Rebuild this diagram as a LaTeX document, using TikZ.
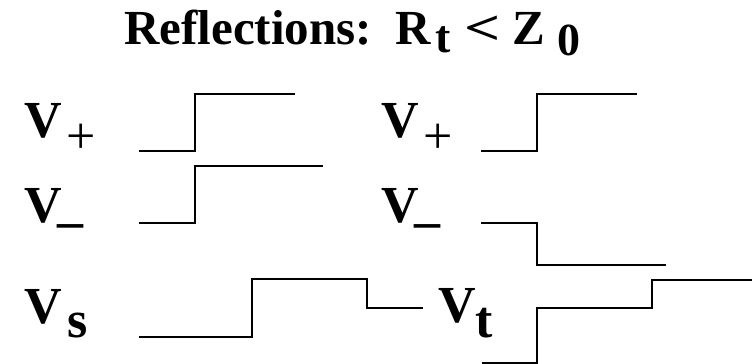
\documentclass[tikz,border=0pt]{standalone}
\usepackage{fontspec}
\setmainfont{Liberation Serif}
\usepackage{tikz}
\usetikzlibrary{calc}

\begin{document}
\begin{tikzpicture}[x=1pt, y=-1pt,
    wave/.style={line width=2.6pt, line join=miter},
    lbl/.style={anchor=base west, inner sep=0pt, font=\fontsize{52pt}{52pt}\selectfont\bfseries}]
          \useasboundingbox (0,0) rectangle (753,364);
          \node[lbl, font=\fontsize{49pt}{49pt}\selectfont\bfseries] (title) at (124,44)
            {Reflections:\hspace{24pt}R\hspace{4pt}\raisebox{-9pt}{\fontsize{46pt}{46pt}\selectfont t}\hspace{14pt}\scalebox{1.3}[1]{\textless}\hspace{12pt}Z\hspace{12pt}\raisebox{-12pt}{\fontsize{46pt}{46pt}\selectfont 0}};
          % labels
          \node[lbl] (vpl) at (24,137) {V\hspace{5pt}\raisebox{-16pt}{\mdseries +}};
          \node[lbl] (vml) at (24,222) {V\hspace{-4pt}\raisebox{-16pt}{–}};
          \node[lbl] (vs) at (24,323) {V\hspace{6pt}\raisebox{-14pt}{s}};
          \node[lbl] (vpr) at (381,137) {V\hspace{5pt}\raisebox{-16pt}{\mdseries +}};
          \node[lbl] (vmr) at (381,222) {V\hspace{-4pt}\raisebox{-16pt}{–}};
          \node[lbl] (vt) at (438,322) {V\hspace{0pt}\raisebox{-15pt}{t}};
          % waveforms
          \draw[wave] (139,151) -| (195,94) -- (295,94);
          \draw[wave] (139,223) -| (195,166) -- (323,166);
          \draw[wave] (481,151) -| (537,94) -- (637,94);
          \draw[wave] (481,223) -| (537,265) -- (666,265);
          \draw[wave] (139,337) -| (252,279) -| (367,308) -- (423,308);
          \draw[wave] (482,363) -| (537,308) -| (652,280) -- (752,280);
        \end{tikzpicture}
\end{document}
